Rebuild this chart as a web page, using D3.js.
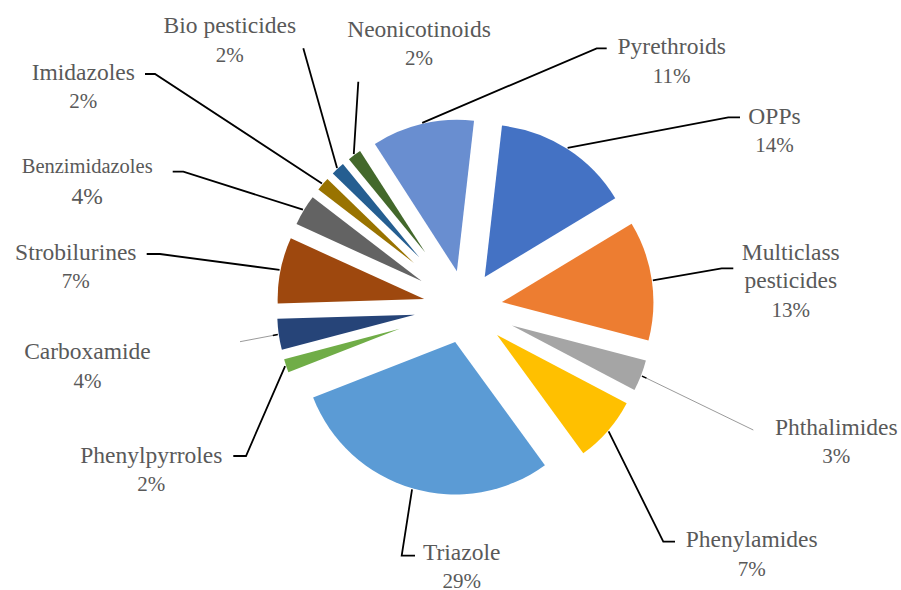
<!DOCTYPE html>
<html>
<head>
<meta charset="utf-8">
<script src="https://cdn.jsdelivr.net/npm/d3@7"></script>
<style>
body { margin: 0; background: #fff; }
text { font-family: "Liberation Serif", "Times New Roman", serif; fill: #595959; }
</style>
</head>
<body>
<div id="chart"></div>
<script>
// pesticide classes, clockwise from OPPs
var categories = ["OPPs", "Multiclass pesticides", "Phthalimides", "Phenylamides", "Triazole",
  "Phenylpyrroles", "Carboxamide", "Strobilurines", "Benzimidazoles", "Imidazoles",
  "Bio pesticides", "Neonicotinoids", "Pyrethroids"];
// number of works per class (slice size, total 55)
var counts = [8, 7, 2, 4, 16, 1, 2, 4, 2, 1, 1, 1, 6];
// percentages as printed on the data labels
var pctLabels = ["14%", "13%", "3%", "7%", "29%", "2%", "4%", "7%", "4%", "2%", "2%", "2%", "11%"];

// office palette
var colors = ["#4472C4", "#ED7D31", "#A5A5A5", "#FFC000", "#5B9BD5", "#70AD47", "#264478",
  "#9E480E", "#636363", "#997300", "#255E91", "#43682B", "#698ED0"];

var w = 901, h = 590;
var cx = 465.3, cy = 307.4;
var rOuter = 188.5;           // distance from centre to outer edge of every slice
var startDeg = 6.5;           // first slice angle
// how far each slice is pulled out of the centre (px)
var explode = [36, 37, 50, 42, 36, 69, 51, 42, 51, 68, 68, 68, 37];

// label placement: x centre, first baseline, leader start (+ elbow)
var labelPos = [
  {x: 774.5, y: 124, lead: [[740, 117.3], [728.3, 117.3]]},
  {x: 790.8, y: 260, wrap: true, lead: [[733.3, 268.3], [721.7, 268.3]]},
  {x: 836.3, y: 435, thin: true, lead: [[753.3, 430]]},
  {x: 751.7, y: 547.3, lead: [[675, 541.7], [663.3, 541.7]]},
  {x: 461.7, y: 560, lead: [[415, 555.7], [401.7, 555.7]]},
  {x: 151.3, y: 462.7, lead: [[233.3, 456], [246, 456]]},
  {x: 87.5, y: 359.3, thin: true, lead: [[240, 341.7]]},
  {x: 75.8, y: 260, lead: [[146.7, 254], [160, 254]]},
  {x: 87.2, y: 172.7, nameSize: 20.5, pctSize: 23.5, gap: 31.3, lead: [[172.7, 171.7], [183.3, 171.7]]},
  {x: 83.3, y: 80, lead: [[145, 74], [155, 74]]},
  {x: 229.8, y: 33.3, lead: [[303.3, 48.3]]},
  {x: 419, y: 36.7, lead: [[358.3, 81.7]]},
  {x: 671.7, y: 54.3, lead: [[606.7, 48.3], [596.7, 48.3]]}
];

var svg = d3.select("#chart").append("svg")
  .attr("width", w)
  .attr("height", h);

svg.append("rect").attr("width", w).attr("height", h).attr("fill", "#fff");

var start = startDeg * Math.PI / 180;
var pie = d3.pie().sort(null).value(function(d) { return d; })
  .startAngle(start).endAngle(start + 2 * Math.PI);
var arcs = pie(counts);

var arc = d3.arc().innerRadius(0)
  .outerRadius(function(d) { return rOuter - explode[d.index]; });

function mid(d) { return (d.startAngle + d.endAngle) / 2; }

var g = svg.append("g").attr("transform", "translate(" + cx + "," + cy + ")");

g.selectAll("path.slice")
  .data(arcs)
  .enter()
  .append("path")
  .attr("class", "slice")
  .attr("d", arc)
  .attr("fill", function(d) { return colors[d.index]; })
  .attr("transform", function(d) {
    var a = mid(d), e = explode[d.index];
    return "translate(" + (Math.sin(a) * e) + "," + (-Math.cos(a) * e) + ")";
  });

// leader lines: label side -> outer edge of slice on its bisector
arcs.forEach(function(d, i) {
  var p = labelPos[i];
  var a = mid(d);
  var end = [cx + Math.sin(a) * (rOuter + 1), cy - Math.cos(a) * (rOuter + 1)];
  var pts = p.lead.concat([end]);
  if (p.thin) {
    svg.append("path")
      .attr("d", d3.line()(pts))
      .attr("fill", "none")
      .attr("stroke", "#6f6f6f")
      .attr("stroke-width", 0.7);
    var s = pts[pts.length - 2];
    var len = Math.hypot(end[0] - s[0], end[1] - s[1]);
    var k = 5 / len;
    svg.append("line")
      .attr("x1", end[0] + (s[0] - end[0]) * k).attr("y1", end[1] + (s[1] - end[1]) * k)
      .attr("x2", end[0]).attr("y2", end[1])
      .attr("stroke", "#000").attr("stroke-width", 1.4);
  } else {
    svg.append("path")
      .attr("d", d3.line()(pts))
      .attr("fill", "none")
      .attr("stroke", "#000")
      .attr("stroke-width", 1.8);
  }
});

// data labels
arcs.forEach(function(d, i) {
  var p = labelPos[i];
  var lines = p.wrap ? categories[i].split(" ") : [categories[i]];
  var nameSize = p.nameSize || 23.5;
  var pctSize = p.pctSize || 21;
  var gap = p.gap || 28.3;
  var t = svg.append("text").attr("text-anchor", "middle");
  lines.forEach(function(line, j) {
    t.append("tspan")
      .attr("x", p.x)
      .attr("y", p.y + j * 28.3)
      .attr("font-size", nameSize)
      .text(line);
  });
  t.append("tspan")
    .attr("x", p.x)
    .attr("y", p.y + (lines.length - 1) * 28.3 + gap)
    .attr("font-size", pctSize)
    .text(pctLabels[i]);
});
</script>
</body>
</html>
